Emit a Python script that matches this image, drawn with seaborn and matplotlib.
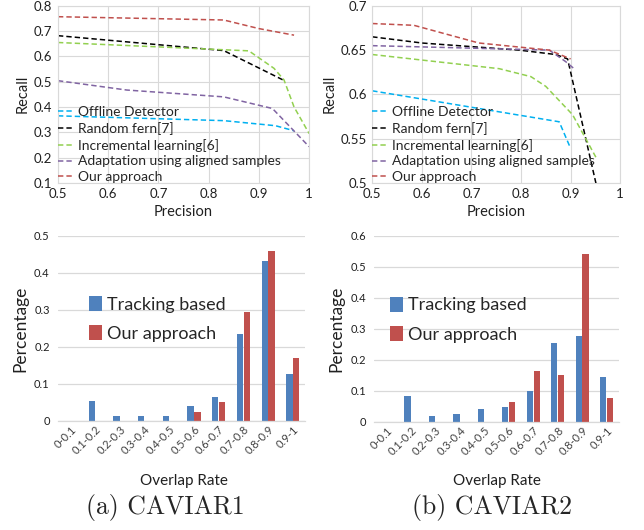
import pandas as pd
import matplotlib
matplotlib.use('Agg')
import matplotlib.pyplot as plt
import seaborn as sns

# ---- data ----
method_names = ['Offline Detector', 'Random fern[7]', 'Incremental learning[6]',
                'Adaptation using aligned samples', 'Our approach']
method_colors = ['#00B0F0', '#000000', '#92D050', '#8064A2', '#C0504D']

# CAVIAR1 precision / recall curves
c1_offline_p = [0.5, 0.83, 0.933, 0.97]
c1_offline_r = [0.365, 0.346, 0.326, 0.306]
c1_fern_p = [0.5, 0.83, 0.95]
c1_fern_r = [0.682, 0.623, 0.505]
c1_incr_p = [0.5, 0.88, 0.93, 0.95, 0.97, 1.0]
c1_incr_r = [0.655, 0.622, 0.553, 0.507, 0.40, 0.295]
c1_adapt_p = [0.5, 0.637, 0.83, 0.927, 1.0]
c1_adapt_r = [0.504, 0.467, 0.44, 0.394, 0.243]
c1_ours_p = [0.5, 0.83, 0.9, 0.97]
c1_ours_r = [0.757, 0.744, 0.71, 0.684]

# CAVIAR2 precision / recall curves
c2_offline_p = [0.5, 0.877, 0.90]
c2_offline_r = [0.604, 0.569, 0.539]
c2_fern_p = [0.5, 0.60, 0.796, 0.87, 0.894, 0.955]
c2_fern_r = [0.665, 0.658, 0.650, 0.645, 0.640, 0.49]
c2_incr_p = [0.5, 0.756, 0.82, 0.85, 0.904, 0.951]
c2_incr_r = [0.645, 0.629, 0.62, 0.609, 0.577, 0.529]
c2_adapt_p = [0.5, 0.857, 0.89, 0.907]
c2_adapt_r = [0.655, 0.650, 0.637, 0.629]
c2_ours_p = [0.5, 0.584, 0.715, 0.857, 0.90]
c2_ours_r = [0.680, 0.678, 0.658, 0.650, 0.640]

# overlap rate histograms
overlap_bins = ['0-0.1', '0.1-0.2', '0.2-0.3', '0.3-0.4', '0.4-0.5',
                '0.5-0.6', '0.6-0.7', '0.7-0.8', '0.8-0.9', '0.9-1']
c1_tracking = [0, 0.054, 0.014, 0.014, 0.014, 0.041, 0.065, 0.235, 0.431, 0.126]
c1_ours = [0, 0, 0, 0, 0, 0.025, 0.051, 0.294, 0.458, 0.171]
c2_tracking = [0, 0.084, 0.019, 0.024, 0.040, 0.048, 0.099, 0.253, 0.277, 0.145]
c2_ours = [0, 0, 0, 0, 0, 0.065, 0.164, 0.152, 0.540, 0.078]

sns.set_style('whitegrid')
plt.rcParams['font.family'] = ['Lato', 'DejaVu Sans']

fig = plt.figure(figsize=(6.44, 5.30), dpi=100)
ax1 = fig.add_axes([0.090, 0.655, 0.390, 0.334])
ax2 = fig.add_axes([0.578, 0.655, 0.385, 0.334])
ax3 = fig.add_axes([0.090, 0.206, 0.384, 0.349])
ax4 = fig.add_axes([0.581, 0.204, 0.380, 0.351])

grid_col = '#D9D9D9'
text_col = '#404040'


def pr_plot(ax, curves, ylim, yticks, ylabels):
    for (p, r), name, col in zip(curves, method_names, method_colors):
        sns.lineplot(x=p, y=r, ax=ax, color=col, label=name, sort=False,
                     linewidth=1.1, linestyle=(0, (3.5, 2)))
    ax.set_xlim(0.5, 1.0)
    ax.set_ylim(*ylim)
    ax.set_xticks([0.5, 0.6, 0.7, 0.8, 0.9, 1.0])
    ax.set_xticklabels(['0.5', '0.6', '0.7', '0.8', '0.9', '1'])
    ax.set_yticks(yticks)
    ax.set_yticklabels(ylabels)
    ax.tick_params(labelsize=9.5, colors='#202020', pad=4, length=0)
    ax.grid(True, color=grid_col, linewidth=0.8)
    for s in ax.spines.values():
        s.set_color(grid_col)
        s.set_linewidth(0.8)
    ax.set_xlabel('Precision', fontsize=10.5, color='#202020', labelpad=3)
    ax.set_ylabel('Recall', fontsize=10.5, color='#202020', labelpad=3)
    ax.legend(loc='lower left', bbox_to_anchor=(-0.005, -0.01), frameon=False,
              fontsize=10, handlelength=1.1, handletextpad=0.3,
              labelspacing=0.27, borderaxespad=0, borderpad=0.1)


pr_plot(ax1,
        [(c1_offline_p, c1_offline_r), (c1_fern_p, c1_fern_r), (c1_incr_p, c1_incr_r),
         (c1_adapt_p, c1_adapt_r), (c1_ours_p, c1_ours_r)],
        (0.1, 0.8), [0.1, 0.2, 0.3, 0.4, 0.5, 0.6, 0.7, 0.8],
        ['0.1', '0.2', '0.3', '0.4', '0.5', '0.6', '0.7', '0.8'])
pr_plot(ax2,
        [(c2_offline_p, c2_offline_r), (c2_fern_p, c2_fern_r), (c2_incr_p, c2_incr_r),
         (c2_adapt_p, c2_adapt_r), (c2_ours_p, c2_ours_r)],
        (0.5, 0.7), [0.5, 0.55, 0.6, 0.65, 0.7],
        ['0.5', '0.55', '0.6', '0.65', '0.7'])


def bar_plot(ax, tracking, ours, ymax, yticks, ylabels, leg_x):
    df = pd.DataFrame({
        'bin': overlap_bins * 2,
        'value': tracking + ours,
        'method': ['Tracking based'] * len(overlap_bins) + ['Our approach'] * len(overlap_bins),
    })
    sns.barplot(data=df, x='bin', y='value', hue='method', ax=ax,
                palette=['#4F81BD', '#C0504D'], width=0.55, gap=0.08,
                saturation=1, edgecolor='none')
    ax.set_ylim(0, ymax)
    ax.set_yticks(yticks)
    ax.set_yticklabels(ylabels)
    ax.set_xlim(-0.5, len(overlap_bins) - 0.5)
    ax.grid(True, axis='y', color=grid_col, linewidth=0.9)
    ax.grid(False, axis='x')
    for side in ['left', 'right', 'top']:
        ax.spines[side].set_visible(False)
    ax.spines['bottom'].set_color(grid_col)
    ax.spines['bottom'].set_linewidth(0.9)
    ax.tick_params(axis='y', labelsize=8, colors='#202020', length=0, pad=6)
    ax.tick_params(axis='x', labelsize=8, colors=text_col, length=0, pad=2)
    for lab in ax.get_xticklabels():
        lab.set_rotation(45)
        lab.set_ha('right')
        lab.set_rotation_mode('anchor')
    ax.set_xlabel('')
    ax.set_ylabel('Percentage', fontsize=12.5, color='#202020', labelpad=4)
    ax.legend(loc='center left', bbox_to_anchor=(leg_x, 0.55), frameon=False,
              fontsize=13, handlelength=0.7, handleheight=0.9,
              handletextpad=0.3, labelspacing=0.7, title=None)


bar_plot(ax3, c1_tracking, c1_ours, 0.5, [0, 0.1, 0.2, 0.3, 0.4, 0.5],
         ['0', '0.1', '0.2', '0.3', '0.4', '0.5'], 0.06)
bar_plot(ax4, c2_tracking, c2_ours, 0.6, [0, 0.1, 0.2, 0.3, 0.4, 0.5, 0.6],
         ['0', '0.1', '0.2', '0.3', '0.4', '0.5', '0.6'], 0.0)

fig.text(0.286, 0.092, 'Overlap Rate', ha='center', va='center', fontsize=11, color='#202020')
fig.text(0.771, 0.092, 'Overlap Rate', ha='center', va='center', fontsize=11, color='#202020')
fig.text(0.257, 0.042, '(a) CAVIAR1', ha='center', va='center', fontsize=18.5, family='cmr10')
fig.text(0.764, 0.042, '(b) CAVIAR2', ha='center', va='center', fontsize=18.5, family='cmr10')

fig.savefig('out.png', dpi=100, facecolor='white')
